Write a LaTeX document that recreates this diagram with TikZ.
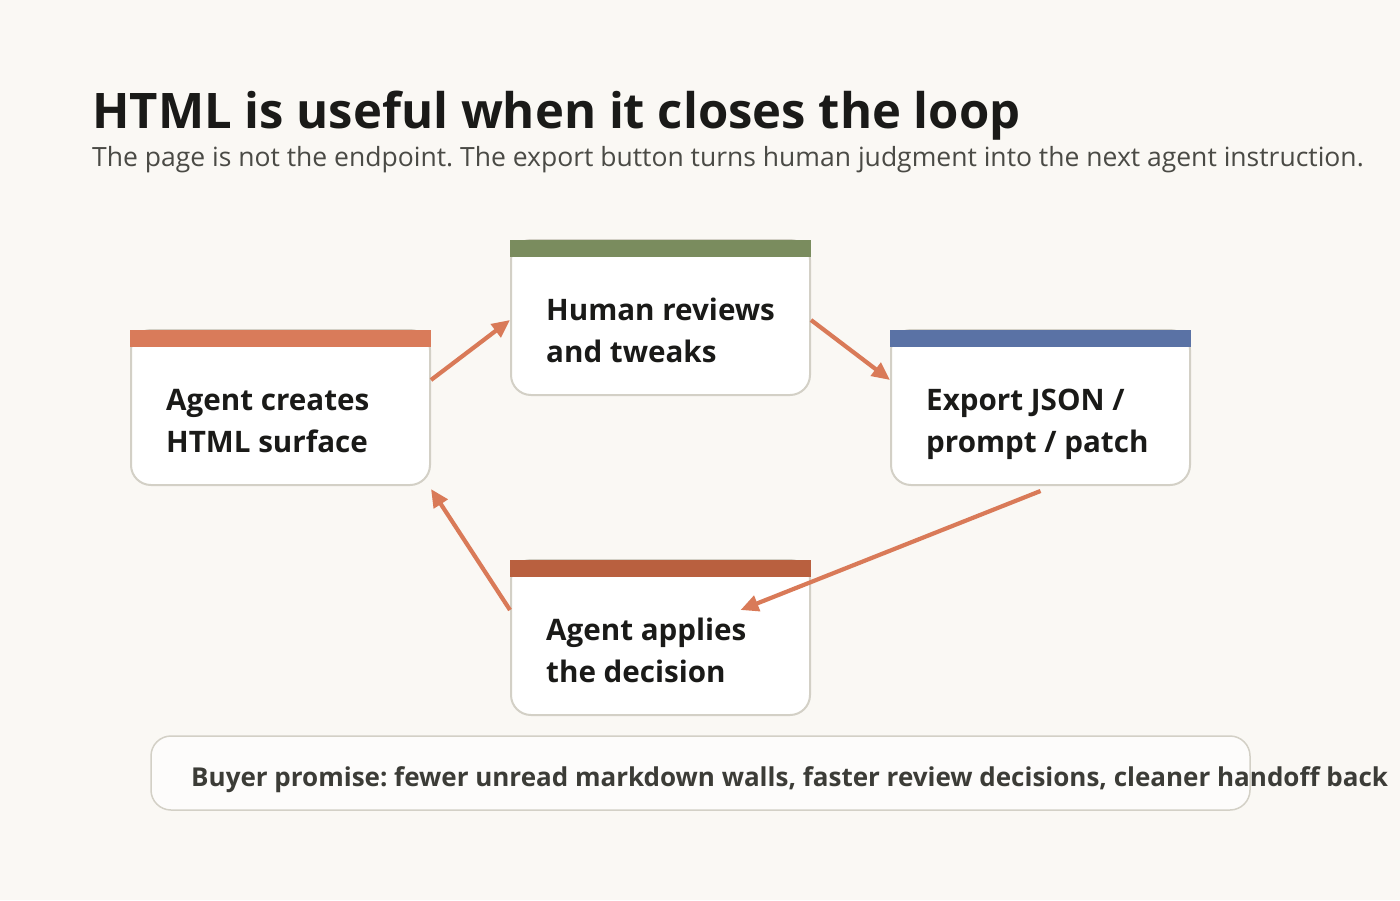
\documentclass[tikz,border=0pt]{standalone}
\usepackage{fontspec}
\setmainfont{Open Sans}
\usetikzlibrary{arrows.meta,calc}
\frenchspacing
\definecolor{bg}{HTML}{FAF8F4}
\definecolor{cardborder}{HTML}{D3D0C6}
\definecolor{ink}{HTML}{1A1A18}
\definecolor{subink}{HTML}{4A4A45}
\definecolor{footink}{HTML}{3C3C37}
\definecolor{arrowc}{HTML}{D97A58}
\definecolor{barA}{HTML}{D97B5A}
\definecolor{barB}{HTML}{7A8C5E}
\definecolor{barC}{HTML}{5A72A5}
\definecolor{barD}{HTML}{B9603F}
\tikzset{
  card/.style={draw=cardborder, line width=2pt, fill=white, rounded corners=20pt,
    minimum width=299pt, minimum height=155pt, inner sep=0pt},
  cardbar/.style={fill=#1, draw=none},
  cardtext/.style={anchor=base west, align=left, inner sep=0pt, text=ink,
    font=\fontsize{29.6}{42}\selectfont\bfseries},
  flow/.style={draw=arrowc, line width=4.2pt, -{Triangle[length=18pt,width=16pt]}},
}
\begin{document}
\begin{tikzpicture}[x=1pt,y=-1pt]
\useasboundingbox[fill=bg] (0,0) rectangle (1400,900);
% title
\node[anchor=base west, inner sep=0pt, text=ink, font=\fontsize{49}{58}\selectfont\bfseries] (title) at (92,128) {HTML is useful when it closes the loop};
\node[anchor=base west, inner sep=0pt, text=subink, font=\fontsize{26.5}{32}\selectfont] (subtitle) at (92,166) {The page is not the endpoint. The export button turns human judgment into the next agent instruction.};
% cards
\node[card] (c1) at (280.5,407.5) {};
\fill[barA] (130,330) rectangle (431,347);
\node[cardtext] (t1) at (166,452) {Agent creates\\HTML surface};
\node[card] (c2) at (660.5,317.5) {};
\fill[barB] (510,240) rectangle (811,257);
\node[cardtext] (t2) at (546,362) {Human reviews\\and tweaks};
\node[card] (c3) at (1040.5,407.5) {};
\fill[barC] (890,330) rectangle (1191,347);
\node[cardtext] (t3) at (926,452) {Export JSON /\\prompt / patch};
\node[card] (c4) at (660.5,637.5) {};
\fill[barD] (510,560) rectangle (811,577);
\node[cardtext] (t4) at (546,682) {Agent applies\\the decision};
% arrows
\draw[flow] ([yshift=27.5pt]c1.east) -- ([yshift=-2.5pt]c2.west);
\draw[flow] ([yshift=-2.5pt]c2.east) -- ([yshift=27.5pt]c3.west);
\draw[flow] ([yshift=-5pt]c3.south) -- ([xshift=80pt,yshift=27.5pt]c4.center);
\draw[flow] ([yshift=27.5pt]c4.west) -- ([yshift=-3pt]c1.south east);
% footer
\node[draw=cardborder, line width=1.5pt, fill=white!60!bg, rounded corners=20pt,
  minimum width=1099pt, minimum height=74pt, inner sep=0pt] (foot) at (700.5,773) {};
\node[anchor=base west, inner sep=0pt, text=footink, font=\fontsize{26}{30}\selectfont\bfseries] (foottext) at (191,786) {Buyer promise: fewer unread markdown walls, faster review decisions, cleaner handoff back};
\end{tikzpicture}
\end{document}
